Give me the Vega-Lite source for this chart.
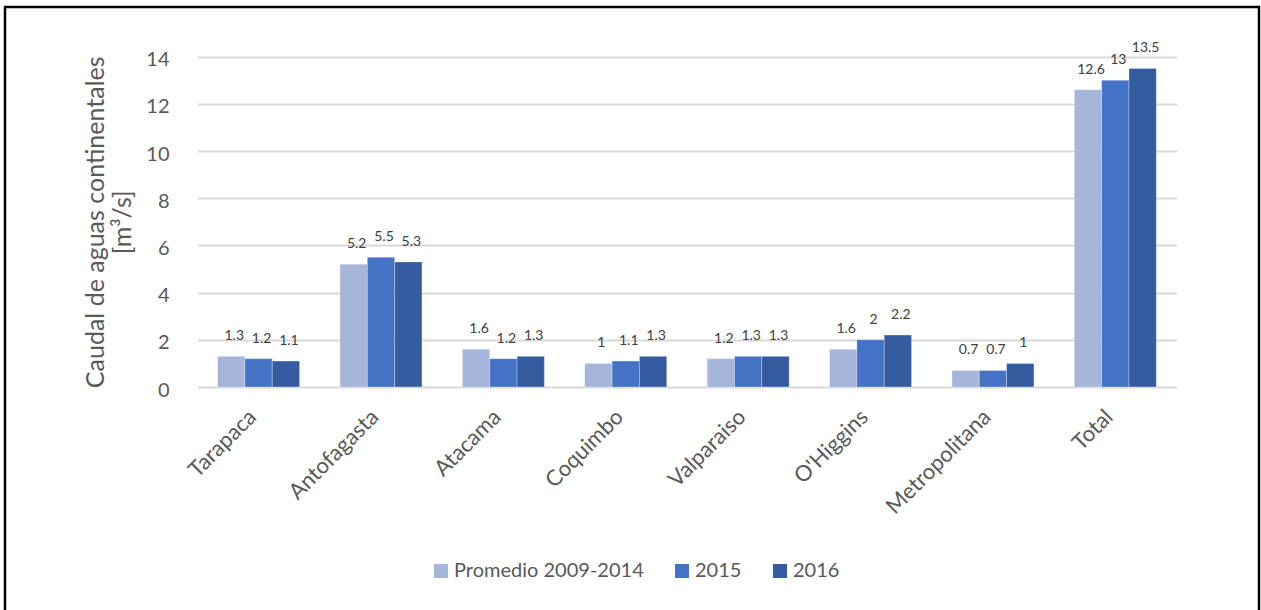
{
  "$schema": "https://vega.github.io/schema/vega-lite/v6.json",
  "autosize": {"type": "none"},
  "width": 1254,
  "height": 610,
  "padding": {"left": 5, "top": 7, "right": 2, "bottom": 0},
  "background": "white",
  "config": {
    "font": "Lato",
    "view": {"stroke": "#000000", "strokeWidth": 2.5},
    "axis": {"labelColor": "#595959", "titleColor": "#595959", "labelFont": "Lato", "titleFont": "Lato"}
  },
  "data": {
    "values": [
      {"region": "Tarapaca", "serie": "Promedio 2009-2014", "valor": 1.3},
      {"region": "Tarapaca", "serie": "2015", "valor": 1.2},
      {"region": "Tarapaca", "serie": "2016", "valor": 1.1},
      {"region": "Antofagasta", "serie": "Promedio 2009-2014", "valor": 5.2},
      {"region": "Antofagasta", "serie": "2015", "valor": 5.5},
      {"region": "Antofagasta", "serie": "2016", "valor": 5.3},
      {"region": "Atacama", "serie": "Promedio 2009-2014", "valor": 1.6},
      {"region": "Atacama", "serie": "2015", "valor": 1.2},
      {"region": "Atacama", "serie": "2016", "valor": 1.3},
      {"region": "Coquimbo", "serie": "Promedio 2009-2014", "valor": 1},
      {"region": "Coquimbo", "serie": "2015", "valor": 1.1},
      {"region": "Coquimbo", "serie": "2016", "valor": 1.3},
      {"region": "Valparaiso", "serie": "Promedio 2009-2014", "valor": 1.2},
      {"region": "Valparaiso", "serie": "2015", "valor": 1.3},
      {"region": "Valparaiso", "serie": "2016", "valor": 1.3},
      {"region": "O'Higgins", "serie": "Promedio 2009-2014", "valor": 1.6},
      {"region": "O'Higgins", "serie": "2015", "valor": 2},
      {"region": "O'Higgins", "serie": "2016", "valor": 2.2},
      {"region": "Metropolitana", "serie": "Promedio 2009-2014", "valor": 0.7},
      {"region": "Metropolitana", "serie": "2015", "valor": 0.7},
      {"region": "Metropolitana", "serie": "2016", "valor": 1},
      {"region": "Total", "serie": "Promedio 2009-2014", "valor": 12.6},
      {"region": "Total", "serie": "2015", "valor": 13},
      {"region": "Total", "serie": "2016", "valor": 13.5}
    ]
  },
  "encoding": {
    "x": {
      "field": "region", "type": "nominal", "sort": null,
      "scale": {"range": [192.4, 1171.5], "paddingInner": 0.33, "paddingOuter": 0.165},
      "axis": {
        "title": null, "domain": false, "ticks": false, "grid": false,
        "offset": -210, "labelAngle": -45, "labelAlign": "right", "labelBaseline": "middle",
        "labelFontSize": 22, "labelPadding": 6, "labelLimit": 0, "labelOffset": -6
      }
    },
    "xOffset": {
      "field": "serie", "type": "nominal", "sort": ["Promedio 2009-2014", "2015", "2016"],
      "scale": {"paddingInner": 0, "paddingOuter": 0}
    },
    "y": {
      "field": "valor", "type": "quantitative",
      "scale": {"domain": [0, 14], "range": [380, 49.6], "nice": false},
      "axis": {
        "title": ["Caudal de aguas continentales", "[m³/s]"],
        "titleFontSize": 25, "titleFontWeight": "normal", "titleLineHeight": 27,
        "titlePadding": 10,
        "values": [0, 2, 4, 6, 8, 10, 12, 14],
        "offset": -180, "domain": false, "ticks": false,
        "labelFontSize": 20, "labelPadding": 16, "labelOffset": 3,
        "grid": true, "gridColor": "#D9D9D9", "gridWidth": 2
      }
    }
  },
  "layer": [
    {
      "mark": {"type": "bar", "stroke": "white", "strokeWidth": 0.5, "strokeOpacity": 0.6},
      "encoding": {
        "color": {
          "field": "serie", "type": "nominal",
          "scale": {"domain": ["Promedio 2009-2014", "2015", "2016"], "range": ["#A6B5DA", "#4472C4", "#355CA0"]},
          "legend": {
            "title": null, "orient": "none", "direction": "horizontal",
            "legendX": 426, "legendY": 554,
            "symbolType": "square", "symbolSize": 196, "symbolStrokeWidth": 0,
            "labelFontSize": 20, "labelColor": "#595959", "labelFont": "Lato", "labelLimit": 0,
            "columnPadding": 28, "labelOffset": 3
          }
        }
      }
    },
    {
      "mark": {"type": "text", "baseline": "middle", "dy": -20, "dx": 3, "fontSize": 14, "color": "#404040"},
      "encoding": {"text": {"field": "valor", "type": "quantitative", "format": "~g"}}
    }
  ]
}
